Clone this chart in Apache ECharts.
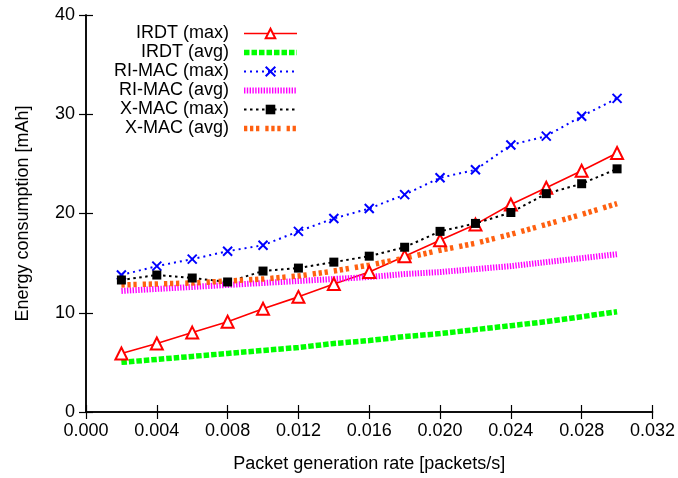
<!DOCTYPE html>
<html>
<head>
<meta charset="utf-8">
<script src="https://cdn.jsdelivr.net/npm/echarts@6/dist/echarts.min.js"></script>
<style>
html,body{margin:0;padding:0;background:#fff;}
#chart{width:678px;height:478px;}
</style>
</head>
<body>
<div id="chart"></div>
<script>
// ---- data ----
var rates = [0.002, 0.004, 0.006, 0.008, 0.010, 0.012, 0.014, 0.016, 0.018, 0.020, 0.022, 0.024, 0.026, 0.028, 0.030];
var irdtMax  = [5.9, 6.9, 8.0, 9.1, 10.4, 11.6, 12.9, 14.1, 15.7, 17.3, 18.9, 20.9, 22.6, 24.3, 26.1];
var irdtAvg  = [5.0, 5.3, 5.6, 5.9, 6.2, 6.5, 6.9, 7.2, 7.6, 7.9, 8.3, 8.7, 9.1, 9.6, 10.1];
var rimacMax = [13.8, 14.7, 15.4, 16.2, 16.8, 18.2, 19.5, 20.5, 21.9, 23.6, 24.4, 26.9, 27.8, 29.8, 31.6];
var rimacAvg = [12.2, 12.4, 12.6, 12.8, 13.0, 13.2, 13.4, 13.6, 13.9, 14.1, 14.4, 14.7, 15.1, 15.5, 15.9];
var xmacMax  = [13.3, 13.8, 13.5, 13.1, 14.2, 14.5, 15.1, 15.7, 16.6, 18.2, 19.0, 20.1, 22.0, 23.0, 24.5];
var xmacAvg  = [12.8, 12.9, 13.0, 13.2, 13.4, 13.7, 14.2, 14.8, 15.5, 16.3, 17.0, 17.9, 18.9, 19.9, 21.0];
var seriesNames = ['IRDT (max)', 'IRDT (avg)', 'RI-MAC (max)', 'RI-MAC (avg)', 'X-MAC (max)', 'X-MAC (avg)'];
var xTitle = 'Packet generation rate [packets/s]';
var yTitle = 'Energy consumption [mAh]';

function pairs(vals) { return rates.map(function (r, i) { return [r, vals[i]]; }); }

var FONT = 'Liberation Sans, Arial, Helvetica, sans-serif';
var chart = echarts.init(document.getElementById('chart'), null, {renderer: 'canvas'});

var axisLine = {show: true, lineStyle: {color: '#000', width: 1.5}};
var tick = {show: true, inside: true, length: 7, lineStyle: {color: '#000', width: 1.2}};
var transparent = {color: 'rgba(0,0,0,0)', borderColor: 'rgba(0,0,0,0)', borderWidth: 0};

var option = {
  animation: false,
  backgroundColor: '#fff',
  textStyle: {fontFamily: FONT},
  grid: {left: 86, right: 25, top: 15, bottom: 64, containLabel: false},
  legend: {
    orient: 'vertical',
    align: 'right',
    right: 378,
    top: 24,
    padding: 0,
    itemGap: 0,
    itemWidth: 53,
    itemHeight: 12,
    formatter: function (n) { return n + '  '; },
    textStyle: {fontSize: 18, color: '#000', fontFamily: FONT, lineHeight: 19},
    lineStyle: {width: 'inherit'},
    data: [
      {name: seriesNames[0]},
      {name: seriesNames[1], itemStyle: transparent},
      {name: seriesNames[2]},
      {name: seriesNames[3], itemStyle: transparent},
      {name: seriesNames[4]},
      {name: seriesNames[5], itemStyle: transparent}
    ]
  },
  xAxis: [{
    type: 'value', position: 'bottom', min: 0, max: 0.032, interval: 0.004,
    name: xTitle, nameLocation: 'middle', nameGap: 43,
    nameTextStyle: {fontSize: 18, color: '#000', fontFamily: FONT},
    axisLine: axisLine, axisTick: tick, splitLine: {show: false},
    axisLabel: {fontSize: 18, color: '#000', margin: 10, fontFamily: FONT,
      formatter: function (v) { return v.toFixed(3); }}
  }, {
    type: 'value', position: 'top', min: 0, max: 0.032, interval: 0.004,
    axisLine: axisLine, axisTick: tick, splitLine: {show: false}, axisLabel: {show: false}
  }],
  yAxis: [{
    type: 'value', position: 'left', min: 0, max: 40, interval: 10,
    name: yTitle, nameLocation: 'middle', nameGap: 54,
    nameTextStyle: {fontSize: 18, color: '#000', fontFamily: FONT},
    axisLine: axisLine, axisTick: tick, splitLine: {show: false},
    axisLabel: {fontSize: 18, color: '#000', margin: 11, fontFamily: FONT}
  }, {
    type: 'value', position: 'right', min: 0, max: 40, interval: 10,
    axisLine: axisLine, axisTick: tick, splitLine: {show: false}, axisLabel: {show: false}
  }],
  series: [{
    name: seriesNames[0], type: 'line', data: pairs(irdtMax),
    symbol: 'emptyTriangle', symbolSize: 12,
    itemStyle: {color: '#ff0000', borderColor: '#ff0000', borderWidth: 1.5},
    lineStyle: {color: '#ff0000', width: 1.6}
  }, {
    name: seriesNames[1], type: 'line', data: pairs(irdtAvg), symbol: 'none',
    itemStyle: {color: '#00ff00'},
    lineStyle: {color: '#00ff00', width: 5.5, type: [5.5, 2]}
  }, {
    name: seriesNames[2], type: 'line', data: pairs(rimacMax),
    symbol: 'path://M0,0L10,10M0,10L10,0', symbolSize: 9,
    itemStyle: {color: '#0000ff', borderColor: '#0000ff', borderWidth: 2},
    lineStyle: {color: '#0000ff', width: 2, type: [2, 4]}
  }, {
    name: seriesNames[3], type: 'line', data: pairs(rimacAvg), symbol: 'none',
    itemStyle: {color: '#ff00ff'},
    lineStyle: {color: '#ff00ff', width: 6, type: [1.4, 1.4]}
  }, {
    name: seriesNames[4], type: 'line', data: pairs(xmacMax),
    symbol: 'rect', symbolSize: 9,
    itemStyle: {color: '#000000'},
    lineStyle: {color: '#000000', width: 2, type: [2.5, 3.5]}
  }, {
    name: seriesNames[5], type: 'line', data: pairs(xmacAvg), symbol: 'none',
    itemStyle: {color: '#ff6010'},
    lineStyle: {color: '#ff6010', width: 5.5, type: [3.3, 2.7, 3.3, 2.7, 3.3, 6]}
  }]
};
chart.setOption(option);
</script>
</body>
</html>
